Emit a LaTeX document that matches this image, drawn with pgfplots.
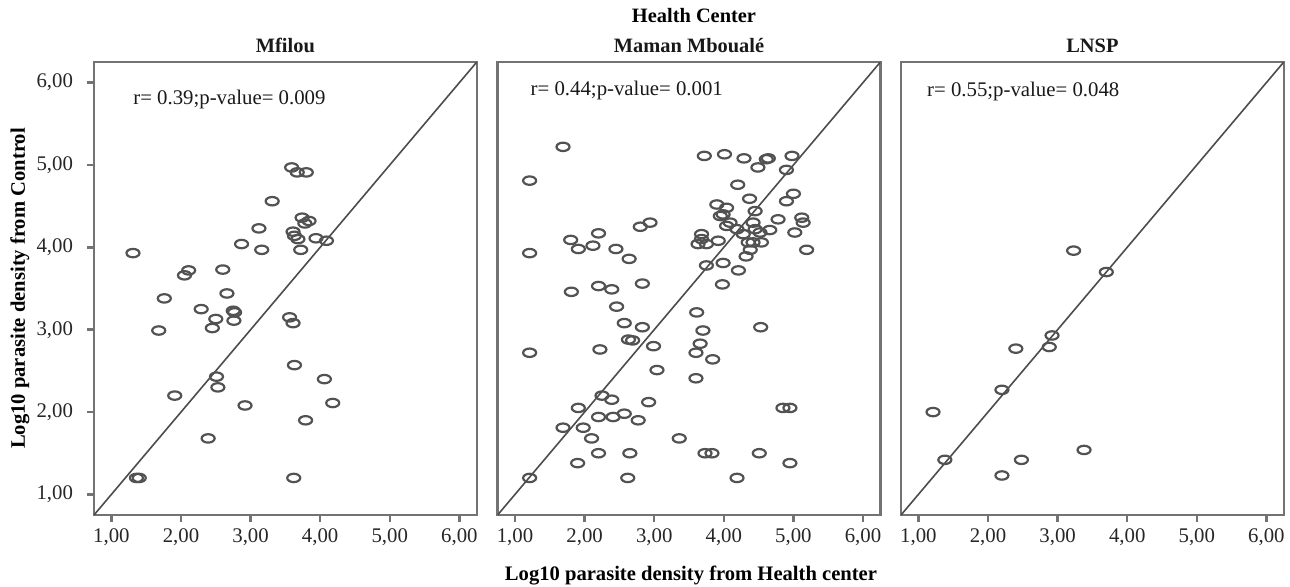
\documentclass[border=0pt]{standalone}
\usepackage{fontspec}
\setmainfont{Liberation Serif}
\usepackage{pgfplots}
\pgfplotsset{compat=1.18}
\usetikzlibrary{calc}

% one panel = one axis, all share the same frame
\pgfplotsset{
  every axis title/.style={at={(0.5,1)}, anchor=base, yshift=5pt, inner sep=0pt,
    font=\fontsize{10.2}{12}\selectfont\bfseries, text=black!90},
  panel/.style={
    scale only axis, width=191.4pt, height=226.5pt,
    anchor=south west,
    xmin=0.75, xmax=6.25, ymin=0.75, ymax=6.25,
    axis line style={black!55, line width=1.2pt},
    tick align=outside, xtick pos=bottom, ytick pos=left,
    major tick length=3.5pt,
    tick style={black!55, line width=1.2pt},
    xtick={1,2,3,4,5,6},
    xticklabels={{1,00},{2,00},{3,00},{4,00},{5,00},{6,00}},
    tick label style={font=\fontsize{10.4}{12}\selectfont, text=black!85},
    yticklabel style={xshift=-3.5pt},
  },
  pts/.style={only marks, mark=o, mark size=2.1pt,
    mark options={xscale=1.55, line width=1.1pt, draw=black!68}},
  diag/.style={black!70, line width=0.8pt, no marks},
}
\tikzset{note/.style={anchor=west, inner sep=0pt, font=\fontsize{10.4}{12}\selectfont, text=black!90}}

\pgfplotstableread{
x y
1.31 3.93
3.59 4.97
3.67 4.91
3.80 4.91
3.31 4.56
3.74 4.36
3.84 4.32
3.78 4.29
3.12 4.23
3.61 4.19
3.63 4.14
3.68 4.10
3.94 4.11
4.09 4.08
3.72 3.97
2.87 4.04
3.16 3.97
2.11 3.72
2.05 3.66
2.60 3.73
2.66 3.44
1.76 3.38
2.29 3.25
2.75 3.23
2.77 3.21
2.50 3.13
2.76 3.11
3.56 3.15
3.61 3.08
1.68 2.99
2.45 3.02
3.63 2.57
2.51 2.43
2.53 2.30
4.06 2.40
1.91 2.20
2.92 2.08
4.18 2.11
3.79 1.90
2.39 1.68
1.36 1.20
1.40 1.20
3.62 1.20
}\mfilou

\pgfplotstableread{
x y
1.69 5.22
1.21 4.81
1.21 3.93
3.72 5.11
4.01 5.13
4.29 5.08
4.61 5.07
4.64 5.08
4.98 5.11
4.49 4.97
4.90 4.94
4.20 4.76
4.37 4.59
5.00 4.65
4.90 4.56
3.90 4.52
4.04 4.48
4.45 4.44
3.99 4.40
3.95 4.38
2.94 4.30
2.80 4.25
4.09 4.30
4.04 4.26
4.19 4.22
4.42 4.30
4.45 4.22
4.78 4.34
5.12 4.36
5.14 4.30
4.66 4.21
4.52 4.18
4.28 4.16
5.02 4.18
5.19 3.97
2.20 4.17
1.80 4.09
1.91 3.98
2.12 4.02
2.45 3.98
2.64 3.86
3.68 4.16
3.68 4.10
3.63 4.04
3.75 4.04
3.92 4.08
4.35 4.06
4.54 4.06
4.42 4.06
4.38 3.97
4.32 3.89
4.21 3.72
3.99 3.81
3.75 3.78
3.98 3.55
2.83 3.56
2.20 3.53
2.39 3.49
1.81 3.46
2.46 3.28
3.61 3.21
2.57 3.08
2.83 3.03
4.53 3.03
3.70 2.99
2.63 2.88
2.69 2.87
2.99 2.80
3.66 2.83
3.60 2.72
1.21 2.72
2.22 2.76
3.84 2.64
3.04 2.51
3.60 2.41
2.25 2.20
2.39 2.15
2.92 2.12
1.91 2.05
4.85 2.05
4.95 2.05
2.20 1.94
2.41 1.94
2.57 1.98
2.77 1.90
1.69 1.81
1.98 1.81
2.10 1.68
3.36 1.68
2.20 1.50
2.65 1.50
3.73 1.50
3.83 1.50
4.51 1.50
1.90 1.38
4.95 1.38
1.21 1.20
2.62 1.20
4.19 1.20
}\mboule

\pgfplotstableread{
x y
3.23 3.96
3.70 3.70
2.92 2.93
2.88 2.79
2.40 2.77
2.20 2.27
1.21 2.00
1.38 1.42
2.48 1.42
3.38 1.54
2.20 1.23
}\lnsp

\begin{document}
\begin{tikzpicture}
\path[use as bounding box] (0,0) rectangle (645pt,293pt);

\begin{axis}[panel, name=p1, at={(47pt,35.5pt)}, title={Mfilou},
  ytick={1,2,3,4,5,6},
  yticklabels={{1,00},{2,00},{3,00},{4,00},{5,00},{6,00}}]
\addplot[diag] coordinates {(0.75,0.75) (6.25,6.25)};
\addplot[pts] table {\mfilou};
\node[note] at (axis cs:1.31,5.80) {r= 0.39;p-value= 0.009};
\end{axis}

\begin{axis}[panel, name=p2, at={(248.8pt,35.5pt)}, title={Maman Mboualé},
  ytick=\empty]
\addplot[diag] coordinates {(0.75,0.75) (6.25,6.25)};
\addplot[pts] table {\mboule};
\node[note] at (axis cs:1.22,5.90) {r= 0.44;p-value= 0.001};
\end{axis}

\begin{axis}[panel, name=p3, at={(450.5pt,35.5pt)}, title={LNSP},
  ytick=\empty]
\addplot[diag] coordinates {(0.75,0.75) (6.25,6.25)};
\addplot[pts] table {\lnsp};
\node[note] at (axis cs:1.12,5.89) {r= 0.55;p-value= 0.048};
\end{axis}

\node[anchor=base, inner sep=0pt, font=\fontsize{10.2}{12}\selectfont\bfseries]
  at (347pt,282pt) {Health Center};
\node[anchor=base, inner sep=0pt, font=\fontsize{10.3}{12}\selectfont\bfseries]
  at ($(p2.south)+(1pt,-32.5pt)$) {Log10 parasite density from Health center};
\node[anchor=base, rotate=90, inner sep=0pt, font=\fontsize{10.3}{12}\selectfont\bfseries]
  at ($(p1.west)+(-34.5pt,0)$) {Log10 parasite density from Control};
\end{tikzpicture}
\end{document}
